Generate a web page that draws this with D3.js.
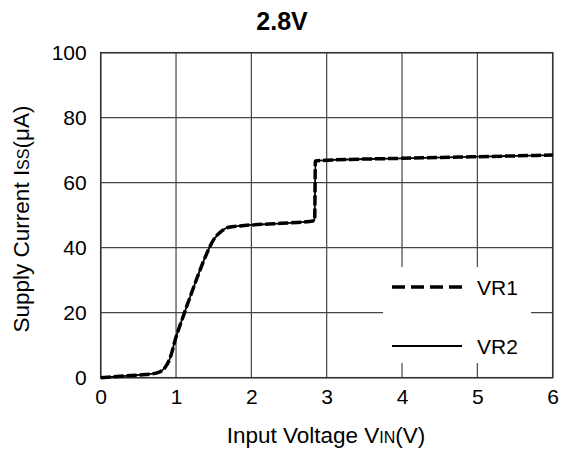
<!DOCTYPE html>
<html><head><meta charset="utf-8">
<script src="https://cdn.jsdelivr.net/npm/d3@7"></script>
<style>body{margin:0;background:#fff}svg{display:block}text{font-family:"Liberation Sans",Arial,sans-serif;fill:#000}</style>
</head><body><svg id="c" width="563" height="455"></svg>
<script>
const title = "2.8V";
const xTicks = [0,1,2,3,4,5,6];
const yTicks = [0,20,40,60,80,100];
const vin = [0,0.3,0.6,0.75,0.85,0.92,1.0,1.1,1.2,1.3,1.4,1.5,1.6,1.7,1.85,2.0,2.4,2.84,2.85,3.0,4.0,5.0,6.0];
const vr1 = [0,0.5,1.0,1.5,3,6,12.5,19.2,25.7,32,37.8,42.5,45,46.3,46.7,47,47.5,48.3,66.7,66.9,67.5,68,68.5];
const vr2 = [0,0.5,1.0,1.5,3,6,12.5,19.2,25.7,32,37.8,42.5,45,46.3,46.7,47,47.5,48.3,66.7,66.9,67.5,68,68.5];
const legendNames = ["VR1","VR2"];

const svg = d3.select("#c");
const L=100.7,R=552.7,T=52.7,B=377.7;
const x = d3.scaleLinear().domain([0,6]).range([L,R]);
const y = d3.scaleLinear().domain([0,100]).range([B,T]);

// grid
svg.append("g").selectAll("line").data(xTicks).join("line")
  .attr("x1",d=>x(d)).attr("x2",d=>x(d)).attr("y1",T).attr("y2",B)
  .attr("stroke","#444").attr("stroke-width",1.2);
svg.append("g").selectAll("line").data(yTicks).join("line")
  .attr("y1",d=>y(d)).attr("y2",d=>y(d)).attr("x1",L).attr("x2",R)
  .attr("stroke","#444").attr("stroke-width",1.2);

// legend background
svg.append("rect").attr("x",383).attr("y",267).attr("width",148).attr("height",96).attr("fill","#fff");

// frame
svg.append("rect").attr("x",L).attr("y",T).attr("width",R-L).attr("height",B-T)
  .attr("fill","none").attr("stroke","#333").attr("stroke-width",1.5);

// axes labels
const xa = d3.axisBottom(x).tickValues(xTicks).tickSize(0).tickPadding(11).tickFormat(d3.format("d"));
const gx = svg.append("g").attr("transform",`translate(0,${B})`).call(xa);
gx.select(".domain").remove();
gx.selectAll("text").attr("font-size",21).attr("font-family","Liberation Sans, Arial, sans-serif").attr("fill","#000");
const ya = d3.axisLeft(y).tickValues(yTicks).tickSize(0).tickPadding(14).tickFormat(d3.format("d"));
const gy = svg.append("g").attr("transform",`translate(${L},0)`).call(ya);
gy.select(".domain").remove();
gy.selectAll("text").attr("font-size",21).attr("font-family","Liberation Sans, Arial, sans-serif").attr("fill","#000");

// lines
const pts1 = vin.map((v,i)=>[v,vr1[i]]);
const pts2 = vin.map((v,i)=>[v,vr2[i]]);
const line = d3.line().x(d=>x(d[0])).y(d=>y(d[1])).curve(d3.curveMonotoneX);
svg.append("path").attr("d",line(pts2)).attr("fill","none").attr("stroke","#000").attr("stroke-width",1.8);
svg.append("path").attr("d",line(pts1)).attr("fill","none").attr("stroke","#000").attr("stroke-width",3.5)
  .attr("stroke-dasharray","10,3");

// legend
const ly=[287,346];
svg.append("line").attr("x1",392).attr("x2",462).attr("y1",ly[0]).attr("y2",ly[0])
  .attr("stroke","#000").attr("stroke-width",3.5).attr("stroke-dasharray","13,6");
svg.append("line").attr("x1",392).attr("x2",462).attr("y1",ly[1]).attr("y2",ly[1])
  .attr("stroke","#000").attr("stroke-width",1.8);
legendNames.forEach((n,i)=>svg.append("text").attr("x",477).attr("y",ly[i]+8).attr("font-size",21).text(n));

// title
svg.append("text").attr("x",282).attr("y",30).attr("text-anchor","middle")
  .attr("font-size",25).attr("font-weight","bold").text(title);

// x label
const xl = svg.append("text").attr("x",326).attr("y",443).attr("text-anchor","middle").attr("font-size",22.5);
xl.append("tspan").text("Input Voltage V");
xl.append("tspan").attr("font-size",16).text("IN");
xl.append("tspan").text("(V)");

// y label
const yl = svg.append("text").attr("transform","translate(29,219) rotate(-90)").attr("text-anchor","middle").attr("font-size",22.5);
yl.append("tspan").text("Supply Current I");
yl.append("tspan").attr("font-size",16).text("SS");
yl.append("tspan").text("(μA)");
</script></body></html>
